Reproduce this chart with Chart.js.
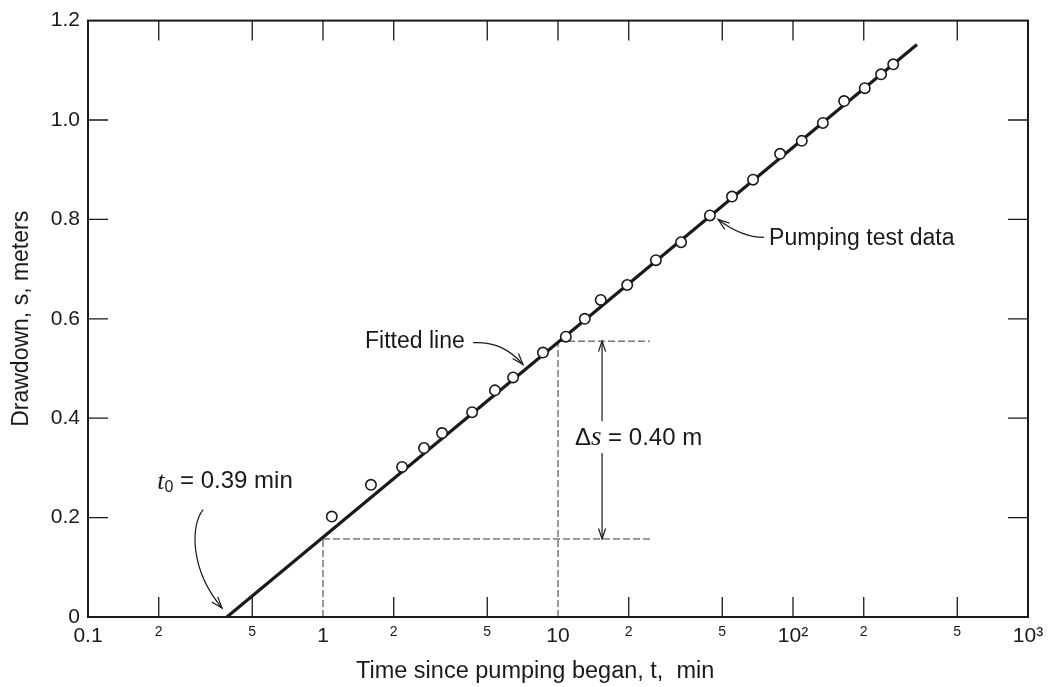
<!DOCTYPE html>
<html><head><meta charset="utf-8">
<script src="https://cdn.jsdelivr.net/npm/chart.js@4.4.0/dist/chart.umd.min.js"></script>
<style>html,body{margin:0;padding:0;background:#fff}#wrap{width:1054px;height:687px;position:relative}</style>
</head><body><div id="wrap"><canvas id="c" width="1054" height="687"></canvas></div>
<script>
// ---- data ----
const times = [1.09, 1.6, 2.17, 2.69, 3.21, 4.31, 5.39, 6.44, 8.63, 10.8, 13.0, 15.2, 19.7, 26.1, 33.4, 44.3, 55.0, 67.6, 88.1, 109, 134, 165, 202, 237, 267];
const drawdowns = [0.202, 0.266, 0.302, 0.34, 0.37, 0.412, 0.456, 0.482, 0.532, 0.564, 0.60, 0.638, 0.668, 0.718, 0.754, 0.808, 0.846, 0.88, 0.932, 0.958, 0.994, 1.038, 1.064, 1.092, 1.112];
const fitTimes = [0.39, 337];
const fitDrawdowns = [0, 1.152];
const xTickValues = [0.1, 0.2, 0.5, 1, 2, 5, 10, 20, 50, 100, 200, 500, 1000];
const xTickLabels = ['0.1', '2', '5', '1', '2', '5', '10', '2', '5', '10²', '2', '5', '10³'];
const yTickValues = [0, 0.2, 0.4, 0.6, 0.8, 1.0, 1.2];
const yTickLabels = ['0', '0.2', '0.4', '0.6', '0.8', '1.0', '1.2'];
const bottomMarkTimes = [0.2, 0.5, 2, 5, 20, 50, 100, 200, 500];
const topMarkTimes = [0.2, 0.5, 1, 2, 5, 10, 20, 50, 100, 200, 500];
const sideMarkLevels = [0.2, 0.4, 0.6, 0.8, 1.0];
const guideTimes = [1, 10];
const guideLevels = [0.157, 0.555];
const guideEndTime = 24.6;
const deltaArrowTime = 15.4;
const deltaGap = [0.33, 0.394];

// annotation anchors in data units (time, drawdown)
const curvedArrows = [
  [[0.309, 0.216], [0.272, 0.184], [0.272, 0.094], [0.372, 0.018]],
  [[4.35, 0.552], [5.40, 0.554], [6.25, 0.538], [7.10, 0.508]],
  [[75.3, 0.764], [62.5, 0.764], [53.9, 0.782], [48.0, 0.80]]
];
const SANS = '"Liberation Sans", Arial, sans-serif';
const SERIF = '"Liberation Serif", "DejaVu Serif", serif';
const textNotes = [
  {t: 0.197, s: 0.272, runs: [
    {text: 't', font: 'italic 26px ' + SERIF},
    {text: '0', font: '16px ' + SANS, dy: 6},
    {text: ' = 0.39 min', font: '24px ' + SANS}]},
  {t: 1.51, s: 0.554, runs: [{text: 'Fitted line', font: '23px ' + SANS}]},
  {t: 79.1, s: 0.762, runs: [{text: 'Pumping test data', font: '23px ' + SANS}]},
  {t: 11.8, s: 0.36, runs: [
    {text: 'Δ', font: '24px ' + SANS},
    {text: 's', font: 'italic 27px ' + SERIF},
    {text: ' = 0.40 m', font: '24px ' + SANS}]}
];

const INK = '#1a1a1a';
const MARK = 20;

function arrowHead(ctx, x, y, dx, dy, len) {
  const a = Math.atan2(dy, dx), w = 0.33;
  ctx.beginPath();
  ctx.moveTo(x - len * Math.cos(a - w), y - len * Math.sin(a - w));
  ctx.lineTo(x, y);
  ctx.lineTo(x - len * Math.cos(a + w), y - len * Math.sin(a + w));
  ctx.stroke();
}

const decor = {
  id: 'decor',
  beforeDatasetsDraw(chart) {
    const {ctx, chartArea: a, scales: {x, y}} = chart;
    ctx.save();
    ctx.strokeStyle = INK;
    ctx.lineWidth = 2;
    ctx.strokeRect(a.left, a.top, a.right - a.left, a.bottom - a.top);
    ctx.lineWidth = 1.3;
    ctx.beginPath();
    bottomMarkTimes.forEach(v => { const p = x.getPixelForValue(v); ctx.moveTo(p, a.bottom); ctx.lineTo(p, a.bottom - MARK); });
    topMarkTimes.forEach(v => { const p = x.getPixelForValue(v); ctx.moveTo(p, a.top); ctx.lineTo(p, a.top + MARK); });
    sideMarkLevels.forEach(v => {
      const p = y.getPixelForValue(v);
      ctx.moveTo(a.left, p); ctx.lineTo(a.left + MARK, p);
      ctx.moveTo(a.right, p); ctx.lineTo(a.right - MARK, p);
    });
    ctx.stroke();
    // dashed construction lines
    ctx.lineWidth = 1;
    ctx.strokeStyle = '#333';
    ctx.setLineDash([7, 3]);
    ctx.beginPath();
    const xe = x.getPixelForValue(guideEndTime);
    guideTimes.forEach((t, i) => {
      const px = x.getPixelForValue(t), py = y.getPixelForValue(guideLevels[i]);
      ctx.moveTo(px, a.bottom); ctx.lineTo(px, py);
      ctx.moveTo(px, py); ctx.lineTo(xe, py);
    });
    ctx.stroke();
    ctx.setLineDash([]);
    ctx.restore();
  },
  afterDatasetsDraw(chart) {
    const {ctx, scales: {x, y}} = chart;
    ctx.save();
    ctx.strokeStyle = INK;
    ctx.fillStyle = INK;
    ctx.lineWidth = 1.2;
    // delta-s double arrow
    const ax = x.getPixelForValue(deltaArrowTime);
    const yTop = y.getPixelForValue(guideLevels[1]), yBot = y.getPixelForValue(guideLevels[0]);
    const g1 = y.getPixelForValue(deltaGap[1]), g0 = y.getPixelForValue(deltaGap[0]);
    ctx.beginPath();
    ctx.moveTo(ax, yTop); ctx.lineTo(ax, g1);
    ctx.moveTo(ax, g0); ctx.lineTo(ax, yBot);
    ctx.stroke();
    arrowHead(ctx, ax, yTop, 0, -1, 11);
    arrowHead(ctx, ax, yBot, 0, 1, 11);
    // curved arrows
    curvedArrows.forEach(pts => {
      const p = pts.map(([t, s]) => [x.getPixelForValue(t), y.getPixelForValue(s)]);
      ctx.beginPath();
      ctx.moveTo(p[0][0], p[0][1]);
      ctx.bezierCurveTo(p[1][0], p[1][1], p[2][0], p[2][1], p[3][0], p[3][1]);
      ctx.stroke();
      arrowHead(ctx, p[3][0], p[3][1], p[3][0] - p[2][0], p[3][1] - p[2][1], 12);
    });
    // texts
    ctx.textBaseline = 'middle';
    ctx.textAlign = 'left';
    textNotes.forEach(n => {
      let cx = x.getPixelForValue(n.t);
      const cy = y.getPixelForValue(n.s);
      n.runs.forEach(r => {
        ctx.font = r.font;
        ctx.fillText(r.text, cx, cy + (r.dy || 0));
        cx += ctx.measureText(r.text).width;
      });
    });
    ctx.restore();
  }
};

new Chart(document.getElementById('c'), {
  type: 'scatter',
  data: {
    datasets: [
      {
        label: 'Pumping test data',
        data: times.map((t, i) => ({x: t, y: drawdowns[i]})),
        pointStyle: 'circle',
        pointRadius: 5.2,
        pointBorderWidth: 1.6,
        pointBackgroundColor: '#fff',
        pointBorderColor: INK,
        showLine: false
      },
      {
        type: 'line',
        label: 'Fitted line',
        data: fitTimes.map((t, i) => ({x: t, y: fitDrawdowns[i]})),
        borderColor: INK,
        borderWidth: 3.2,
        pointRadius: 0,
        fill: false,
        tension: 0
      }
    ]
  },
  options: {
    responsive: false,
    animation: false,
    devicePixelRatio: 1,
    layout: {padding: {left: 0, right: 26, top: 18, bottom: 0}},
    plugins: {legend: {display: false}, tooltip: {enabled: false}},
    scales: {
      x: {
        type: 'logarithmic',
        min: 0.1, max: 1000,
        grid: {display: false, drawTicks: false},
        border: {display: false},
        afterBuildTicks: s => { s.ticks = xTickValues.map(v => ({value: v})); },
        afterFit: s => { s.height = 70; },
        ticks: {
          autoSkip: false, maxRotation: 0, minRotation: 0, padding: 7, color: INK,
          font: ctx => ({family: SANS, size: (ctx.index % 3 === 0) ? 21 : 14}),
          callback: (v, i) => xTickLabels[i]
        },
        title: {
          display: true,
          text: 'Time since pumping began, t,  min\u00a0\u00a0\u00a0\u00a0\u00a0\u00a0\u00a0',
          color: INK,
          font: {family: SANS, size: 23.5},
          padding: {top: 0, bottom: 1}
        }
      },
      y: {
        type: 'linear',
        min: 0, max: 1.2,
        grid: {display: false, drawTicks: false},
        border: {display: false},
        afterBuildTicks: s => { s.ticks = yTickValues.map(v => ({value: v})); },
        afterFit: s => { s.width = 88; },
        ticks: {
          padding: 8, color: INK,
          font: {family: SANS, size: 21},
          callback: (v, i) => yTickLabels[i]
        },
        title: {
          display: true,
          text: 'Drawdown, s, meters',
          color: INK,
          font: {family: SANS, size: 23},
          padding: {top: 8, bottom: 0}
        }
      }
    }
  },
  plugins: [decor]
});
</script>
</body></html>
